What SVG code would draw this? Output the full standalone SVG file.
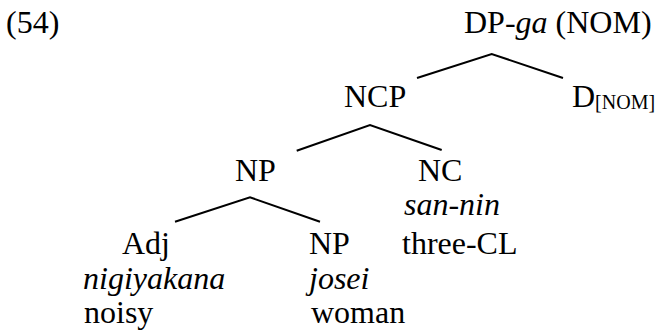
<svg xmlns="http://www.w3.org/2000/svg" width="658" height="333" viewBox="0 0 658 333">
<style>
text{font-size:32px;fill:#000}
.i{font-style:italic}
.sub{font-size:20px}
.edge{fill:none;stroke:#000;stroke-width:2;stroke-linejoin:miter}
</style>
<rect width="658" height="333" fill="#fff"/>
<text id="ex" font-family="Liberation Serif" x="6" y="33">(54)</text>
<g id="connectors">
<polyline class="edge" points="417,78 491.7,54 563,78"/>
<polyline class="edge" points="296.7,150.7 370,125 441.7,150"/>
<polyline class="edge" points="175,221.7 250,197.3 320,221.7"/>
</g>
<g id="DP"><text font-family="Liberation Serif" x="464" y="33">DP-<tspan class="i">ga</tspan> (NOM)</text></g>
<g id="NCP"><text font-family="Liberation Serif" x="344" y="107">NCP</text></g>
<g id="D"><text font-family="Liberation Serif" x="572" y="107">D<tspan class="sub" dy="2">[NOM]</tspan></text></g>
<g id="NP1"><text font-family="Liberation Serif" x="235" y="181">NP</text></g>
<g id="NC"><text font-family="Liberation Serif" x="418" y="181">NC</text><text font-family="Liberation Serif" class="i" x="404" y="215">san-nin</text><text font-family="Liberation Serif" x="402" y="254">three-CL</text></g>
<g id="Adj"><text font-family="Liberation Serif" x="122" y="254">Adj</text><text font-family="Liberation Serif" class="i" x="83" y="289">nigiyakana</text><text font-family="Liberation Serif" x="84" y="323">noisy</text></g>
<g id="NP2"><text font-family="Liberation Serif" x="309" y="254">NP</text><text font-family="Liberation Serif" class="i" x="309" y="289">josei</text><text font-family="Liberation Serif" x="311" y="323">woman</text></g>
</svg>
